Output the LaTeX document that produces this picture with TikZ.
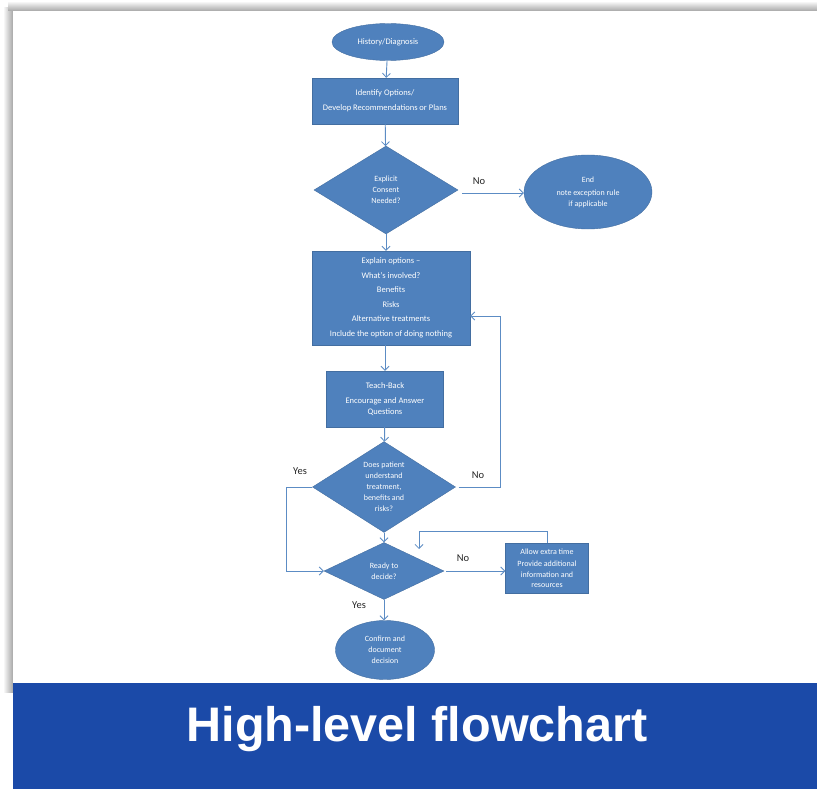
\documentclass[tikz,border=0pt]{standalone}
\usepackage{fontspec}
\setmainfont{Carlito}
\newfontfamily\titlefont{Liberation Sans}
\usetikzlibrary{shapes.geometric,arrows.meta,calc}
\definecolor{nodeblue}{RGB}{79,129,189}
\definecolor{linkblue}{RGB}{92,140,196}
\definecolor{bannerblue}{RGB}{27,74,168}
\tikzset{
  base/.style={fill=nodeblue, draw=nodeblue!85!black, line width=0.4pt, text=white, align=center, font=\fontsize{8.5}{11}\selectfont, inner sep=1pt},
  boxnode/.style={base, rectangle},
  ellnode/.style={base, ellipse},
  dianode/.style={base, diamond, inner sep=0pt},
  arr/.style={draw=linkblue, line width=0.9pt, -{Straight Barb[length=4pt,width=8pt,line width=0.8pt]}},
  lbl/.style={font=\fontsize{10.5}{12}\selectfont, text=black!85}
}
\begin{document}
\begin{tikzpicture}[x=1pt,y=-1pt]
\useasboundingbox (0,0) rectangle (817,789);
\fill[white] (0,0) rectangle (817,789);
% shadow
\shade[left color=white, right color=black!35] (3,8) rectangle (13,692);
\shade[top color=white, bottom color=black!35] (8,1) rectangle (817,11);
\fill[white] (13,11) rectangle (817,683);
% banner
\fill[bannerblue] (13,683) rectangle (817,789);
\node[text=white, font=\titlefont\bfseries\fontsize{48.5}{50}\selectfont] (title) at (417,729) {High-level flowchart};

% nodes
\node[ellnode, minimum width=112pt, minimum height=37pt] (hist) at (388,42) {History/Diagnosis};
\node[boxnode, minimum width=146pt, minimum height=46pt, font=\fontsize{8.5}{15}\selectfont] (ident) at (385,101) {Identify Options/\\Develop Recommendations or Plans};
\node[dianode, minimum width=144pt, minimum height=88pt, font=\fontsize{8}{11}\selectfont] (cons) at (386,190) {Explicit\\Consent\\Needed?};
\node[ellnode, minimum width=128pt, minimum height=74pt, font=\fontsize{8}{11}\selectfont] (endn) at (588,192) {End\\[2pt]note exception rule\\if applicable};
\node[boxnode, minimum width=158pt, minimum height=94pt, font=\fontsize{8.5}{14.5}\selectfont] (expl) at (391,298) {Explain options --\\What's involved?\\Benefits\\Risks\\Alternative treatments\\Include the option of doing nothing};
\node[boxnode, minimum width=117pt, minimum height=56pt, font=\fontsize{8.5}{11}\selectfont] (teach) at (385,399) {Teach-Back\\[4pt]Encourage and Answer\\Questions};
\node[dianode, minimum width=143pt, minimum height=86pt, font=\fontsize{8}{11}\selectfont] (under) at (384,487) {Does patient\\understand\\treatment,\\benefits and\\risks?};
\node[dianode, minimum width=120pt, minimum height=57pt, font=\fontsize{8}{11}\selectfont] (ready) at (384,571) {Ready to\\decide?};
\node[boxnode, minimum width=83pt, minimum height=50pt, font=\fontsize{8}{10.5}\selectfont] (allow) at (547,568) {Allow extra time\\[2pt]Provide additional\\information and\\resources};
\node[ellnode, minimum width=99pt, minimum height=59pt, font=\fontsize{8}{11}\selectfont] (conf) at (385,650) {Confirm and\\document\\decision};

% connectors
\draw[arr] (hist) -- (ident);
\draw[arr] (ident) -- (cons);
\coordinate (consR) at ($(cons.east)+(4,3)$);
\draw[arr] (consR) -- (consR -| endn.west);
\node[lbl] (lno1) at (479,181) {No};
\draw[arr] (cons.south) -- (cons.south |- expl.north);
\draw[arr] (teach.north |- expl.south) -- (teach.north);
\draw[arr] (teach) -- (under);
\coordinate (loopR) at (500,487);
\draw[arr] ([xshift=3pt]under.east) -- (loopR) |- ($(expl.east)+(0,18)$);
\node[lbl] (lno2) at (478,475) {No};
\coordinate (loopL) at (286,487);
\draw[arr] (under.west) -- (loopL) |- (ready.west);
\node[lbl] (lyes1) at (300,471) {Yes};
\draw[arr] (under) -- (ready);
\coordinate (readyR) at ($(ready.east)+(2,0)$);
\draw[arr] (readyR) -- (readyR -| allow.west);
\node[lbl] (lno3) at (463,558) {No};
\coordinate (backTop) at (419,531);
\coordinate (backEnd) at (419,549);
\draw[arr] (allow.north) |- (backTop) -- (backEnd);
\draw[arr] (ready.south) -- (ready.south |- conf.north);
\node[lbl] (lyes2) at (359,605) {Yes};
\end{tikzpicture}
\end{document}
